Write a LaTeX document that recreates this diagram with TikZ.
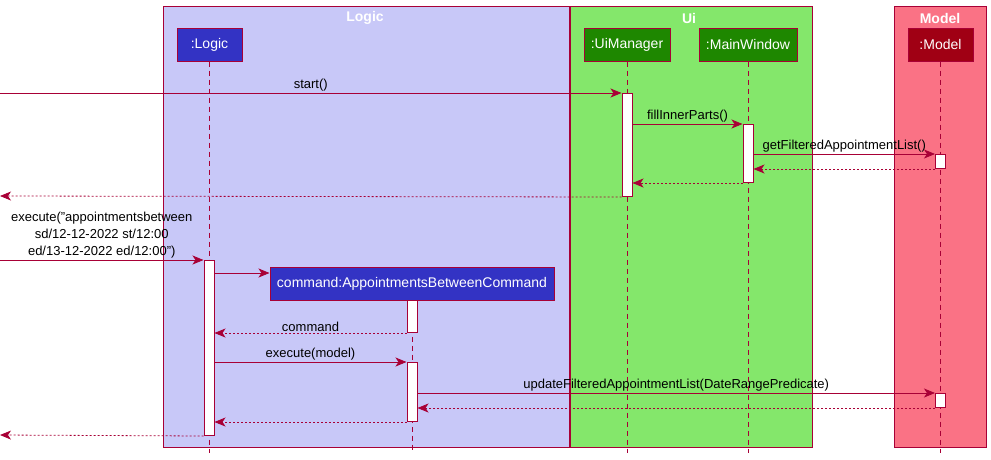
\documentclass[tikz,border=0pt]{standalone}
\usepackage{fontspec}
\setmainfont{Liberation Sans}
\usetikzlibrary{arrows.meta}

\definecolor{umlred}{RGB}{168,0,54}
\definecolor{logicbg}{RGB}{200,200,248}
\definecolor{uibg}{RGB}{132,231,107}
\definecolor{modelbg}{RGB}{250,114,133}
\definecolor{logicpart}{RGB}{51,51,196}
\definecolor{uipart}{RGB}{30,135,0}
\definecolor{modelpart}{RGB}{160,0,20}

\begin{document}
\begin{tikzpicture}[x=1pt, y=-1pt, font=\fontsize{13}{16}\selectfont,
  >={Stealth[length=11pt, width=9pt, inset=3pt]}]

\tikzstyle{group} = [draw=umlred, line width=1pt]
\tikzstyle{grouptitle} = [font=\fontsize{14}{16}\selectfont\bfseries, text=white]
\tikzstyle{part} = [draw=umlred, line width=1pt, text=white, font=\fontsize{14}{16}\selectfont, minimum height=33pt, inner sep=0pt]
\tikzstyle{life} = [umlred, line width=0.8pt, dash pattern=on 5pt off 4pt]
\tikzstyle{act} = [draw=umlred, fill=white, line width=1pt, minimum width=10pt, inner sep=0pt, anchor=north]
\tikzstyle{msg} = [umlred, line width=0.8pt, ->]
\tikzstyle{ret} = [msg, dash pattern=on 2pt off 2pt]
\tikzstyle{lbl} = [text=black, above=0pt, inner sep=1pt]

\useasboundingbox (0,0) rectangle (991,459);

% --- Gruppen
\draw[group, fill=logicbg] (163,6) rectangle (569,447);
\draw[group, fill=uibg] (570,6) rectangle (812,447);
\draw[group, fill=modelbg] (894,6) rectangle (986,447);
\node[grouptitle] (tLogic) at (365,18) {Logic};
\node[grouptitle] (tUi) at (689,18) {Ui};
\node[grouptitle] (tModel) at (940,18) {Model};

% --- Teilnehmer
\node[part, fill=logicpart, minimum width=65pt] (logic) at (209.5,44.5) {:Logic};
\node[part, fill=uipart, minimum width=86pt] (uim) at (627,44.5) {:UiManager};
\node[part, fill=uipart, minimum width=98pt] (mw) at (748,44.5) {:MainWindow};
\node[part, fill=modelpart, minimum width=65pt] (model) at (940.5,44.5) {:Model};
\node[part, fill=logicpart, minimum width=284pt] (cmd) at (412,283.5) {command:AppointmentsBetweenCommand};

% --- Lebenslinien
\coordinate (bottom) at (0,453);
\draw[life] (logic.south) -- (logic.south |- bottom);
\draw[life] (uim.south) -- (uim.south |- bottom);
\draw[life] (mw.south) -- (mw.south |- bottom);
\draw[life] (model.south) -- (model.south |- bottom);
\draw[life] (cmd.south) -- (cmd.south |- bottom);

% --- Aktivierungen
\node[act, minimum height=103pt] (uiAct) at (627,93) {};
\node[act, minimum height=58pt] (mwAct) at (748,124) {};
\node[act, minimum height=14pt] (mAct1) at (940.5,154) {};
\node[act, minimum height=175pt] (logicAct) at (209,260) {};
\node[act, minimum height=32pt] (cmdAct1) at (412,300) {};
\node[act, minimum height=59pt] (cmdAct2) at (412,362) {};
\node[act, minimum height=14pt] (mAct2) at (940.5,393) {};

% --- Nachrichten
\coordinate (startIn) at (0,93);
\coordinate (startOut) at (0,196);
\coordinate (execIn) at (0,260);
\coordinate (execOut) at (0,435);
\coordinate (createY) at (0,273);

\draw[msg] (startIn) -- (uiAct.north west) node[lbl, midway] {start()};
\draw[msg] (uiAct.east |- mwAct.north) -- (mwAct.north west) node[lbl, midway] {fillInnerParts()};
\draw[msg] (mwAct.east |- mAct1.north) -- (mAct1.north west) node[lbl, midway] {getFilteredAppointmentList()};
\draw[ret] (mAct1.south west) -- (mwAct.east |- mAct1.south);
\draw[ret] (mwAct.south west) -- (uiAct.east |- mwAct.south);
\draw[ret] (uiAct.south west) -- (startOut);

\draw[msg] (execIn) -- (logicAct.north west)
  node[lbl, midway, align=center, font=\fontsize{13}{17}\selectfont] {execute("appointmentsbetween\\sd/12-12-2022 st/12:00\\ed/13-12-2022 ed/12:00")};
\draw[msg] (logicAct.east |- createY) -- (cmd.west |- createY);
\draw[ret] (cmdAct1.south west) -- (logicAct.east |- cmdAct1.south) node[lbl, midway] {command};
\draw[msg] (logicAct.east |- cmdAct2.north) -- (cmdAct2.north west) node[lbl, midway] {execute(model)};
\draw[msg] (cmdAct2.east |- mAct2.north) -- (mAct2.north west) node[lbl, midway] {updateFilteredAppointmentList(DateRangePredicate)};
\draw[ret] (mAct2.south west) -- (cmdAct2.east |- mAct2.south);
\draw[ret] (cmdAct2.south west) -- (logicAct.east |- cmdAct2.south);
\draw[ret] (logicAct.south west) -- (execOut);

\end{tikzpicture}
\end{document}
